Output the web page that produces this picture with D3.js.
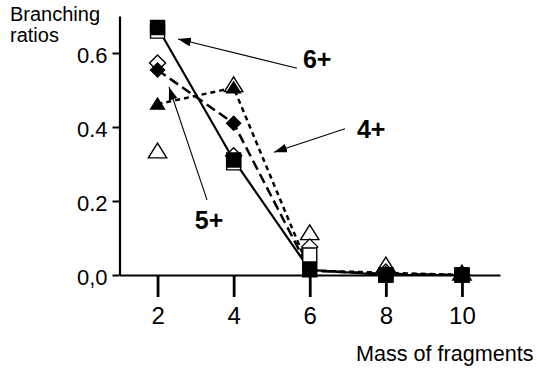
<!DOCTYPE html>
<html>
<head>
<meta charset="utf-8">
<script src="https://cdn.jsdelivr.net/npm/d3@7"></script>
<style>
  body { margin: 0; background: #fff; }
  svg text { font-family: "Liberation Sans", Arial, Helvetica, sans-serif; }
</style>
</head>
<body>
<svg id="vis" width="537" height="372"></svg>
<script>
// x values and axis labels
var mass = [2, 4, 6, 8, 10];
var yTicks = [0, 0.2, 0.4, 0.6];
var yTickLabels = ["0,0", "0.2", "0.4", "0.6"];

// branching ratios (filled = joined by a line, open = markers only)
var sixFilled  = [0.669, 0.311, 0.014, 0.0, 0.0];
var sixOpen    = [0.659, 0.303, 0.054, 0.0, 0.0];
var fiveFilled = [0.554, 0.410, 0.012, 0.003, 0.0];
var fiveOpen   = [0.573, 0.322, 0.076, 0.008, 0.0];
var fourFilled = [0.462, 0.506, 0.012, 0.006, 0.0];
var fourOpen   = [0.335, 0.514, 0.114, 0.027, 0.005];

// charge-state annotations, in data units
var annLabels = ["6+", "5+", "4+"];
var annText = [[5.82, 0.559], [2.98, 0.124], [7.24, 0.370]];
var annTail = [[5.665, 0.559], [3.30, 0.203], [6.926, 0.395]];
var annTip  = [[2.537, 0.638], [2.301, 0.508], [5.06, 0.332]];

var svg = d3.select("#vis");

var x = d3.scaleLinear().domain([1, 11]).range([119.5, 500]);
var y = d3.scaleLinear().domain([0, 0.7]).range([275, 16]);

// arrow head
svg.append("defs").append("marker")
  .attr("id", "head")
  .attr("markerUnits", "userSpaceOnUse")
  .attr("markerWidth", 13).attr("markerHeight", 9)
  .attr("refX", 13).attr("refY", 4.5)
  .attr("orient", "auto")
  .append("path")
  .attr("d", "M0,0 L13,4.5 L0,9 Z")
  .attr("fill", "black");

// X axis
var xAxis = svg.append("g")
  .attr("transform", "translate(0," + y(0) + ")")
  .call(d3.axisBottom(x).tickValues(mass).tickSize(22).tickSizeOuter(0).tickPadding(10));
xAxis.select(".domain").attr("stroke-width", 2.2);
xAxis.selectAll(".tick line").attr("stroke-width", 2.8);
xAxis.selectAll("text")
  .attr("font-family", "Liberation Sans, Arial, sans-serif")
  .style("font-size", "24px");

// Y axis
var yAxis = svg.append("g")
  .attr("transform", "translate(" + x(1) + ",0)")
  .call(d3.axisLeft(y).tickValues(yTicks).tickSize(7).tickSizeOuter(0).tickPadding(5)
    .tickFormat(function(d, i) { return yTickLabels[i]; }));
yAxis.select(".domain").attr("stroke-width", 2.2);
yAxis.selectAll(".tick line").attr("stroke-width", 2);
yAxis.selectAll("text")
  .attr("font-family", "Liberation Sans, Arial, sans-serif")
  .attr("dy", "0.45em")
  .style("font-size", "22px");

// axis titles
svg.append("text").attr("x", 10).attr("y", 21).text("Branching").style("font-size", "20px");
svg.append("text").attr("x", 10).attr("y", 42).text("ratios").style("font-size", "20px");
svg.append("text").attr("x", 356).attr("y", 361).text("Mass of fragments").style("font-size", "21.6px");

// lines through the filled markers
var line = d3.line()
  .x(function(d, i) { return x(mass[i]); })
  .y(function(d) { return y(d); });

svg.append("path").datum(fourFilled)
  .attr("d", line).attr("fill", "none").attr("stroke", "black")
  .attr("stroke-width", 2.5).attr("stroke-dasharray", "5,4");
svg.append("path").datum(fiveFilled)
  .attr("d", line).attr("fill", "none").attr("stroke", "black")
  .attr("stroke-width", 2.5).attr("stroke-dasharray", "10,5");
svg.append("path").datum(sixFilled)
  .attr("d", line).attr("fill", "none").attr("stroke", "black")
  .attr("stroke-width", 2.2);

// marker shapes centred on 0,0
function square(s) { return "M" + (-s) + "," + (-s) + "h" + 2 * s + "v" + 2 * s + "h" + (-2 * s) + "Z"; }
function diamond(s) { return "M0," + (-s) + "L" + s + ",0L0," + s + "L" + (-s) + ",0Z"; }
function triangle(s) { return "M0," + (-s) + "L" + (s * 1.15) + "," + (s * 0.85) + "L" + (-s * 1.15) + "," + (s * 0.85) + "Z"; }

function drawMarkers(values, shape, size, fill) {
  svg.append("g").selectAll("path")
    .data(values)
    .enter()
    .append("path")
      .attr("transform", function(d, i) { return "translate(" + x(mass[i]) + "," + y(d) + ")"; })
      .attr("d", shape(size))
      .attr("fill", fill)
      .attr("stroke", "black")
      .attr("stroke-width", 1.4);
}

drawMarkers(fourOpen, triangle, 8, "white");
drawMarkers(fiveOpen, diamond, 8, "white");
drawMarkers(sixOpen, square, 7, "white");
drawMarkers(fourFilled, triangle, 6, "black");
drawMarkers(fiveFilled, diamond, 7, "black");
drawMarkers(sixFilled, square, 7, "black");

// annotations
annLabels.forEach(function(lbl, i) {
  svg.append("line")
    .attr("x1", x(annTail[i][0])).attr("y1", y(annTail[i][1]))
    .attr("x2", x(annTip[i][0])).attr("y2", y(annTip[i][1]))
    .attr("stroke", "black").attr("stroke-width", 1.1)
    .attr("marker-end", "url(#head)");
  svg.append("text")
    .attr("x", x(annText[i][0])).attr("y", y(annText[i][1]))
    .text(lbl)
    .style("font-size", "25px")
    .style("font-weight", "bold");
});
</script>
</body>
</html>
